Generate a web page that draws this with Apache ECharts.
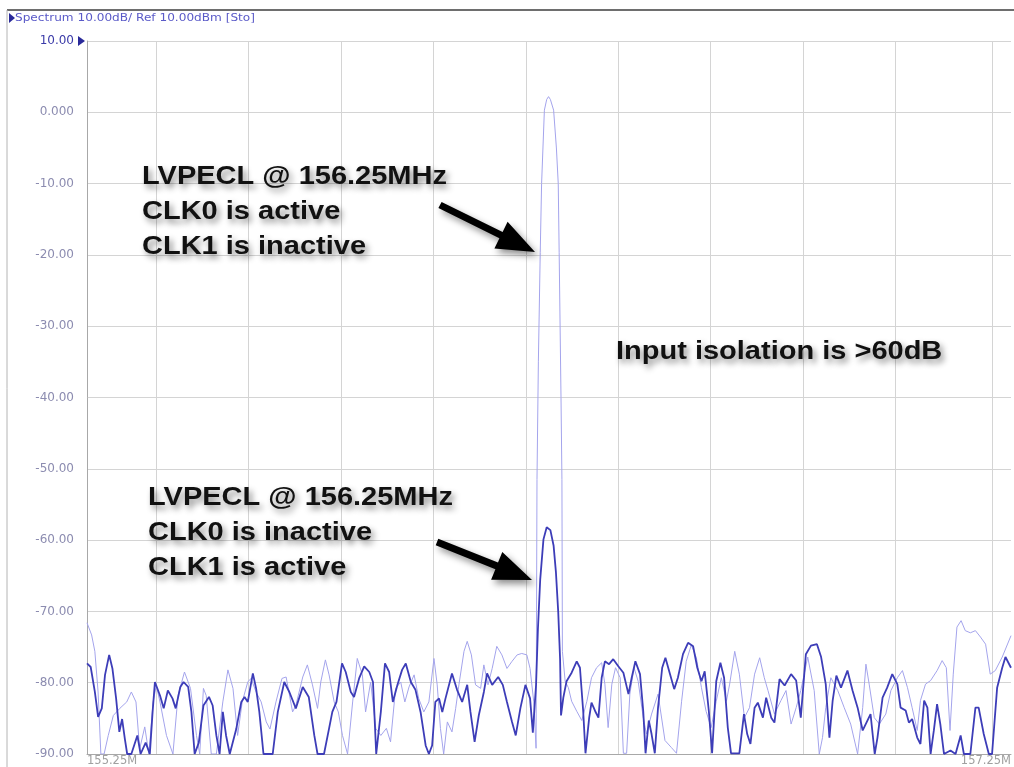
<!DOCTYPE html>
<html><head><meta charset="utf-8">
<script src="https://cdn.jsdelivr.net/npm/echarts@6/dist/echarts.min.js"></script>
<style>html,body{margin:0;padding:0;background:#fff}#c{width:1014px;height:767px}</style>
</head><body><div id="c"></div>
<script>
// Frequency axis (MHz) and level axis (dBm)
const yTickLabels = ['10.00','0.000','-10.00','-20.00','-30.00','-40.00','-50.00','-60.00','-70.00','-80.00','-90.00'];
const xEndLabels = ['155.25M','157.25M'];
const gridFreqs = [155.397,155.599,155.800,156.001,156.204,156.404,156.603,156.803,157.004,157.205];

// CLK0 active (light trace): [MHz, dBm]
const clk0Active = [[155.250,-71.6],[155.260,-73.3],[155.267,-75.6],[155.274,-81.3],[155.280,-90],[155.287,-90],[155.296,-87.4],[155.307,-84.6],[155.321,-83.6],[155.336,-82.7],[155.346,-81.3],[155.356,-82.7],[155.364,-89.3],[155.375,-86.2],[155.384,-90],[155.393,-82.7],[155.400,-80.4],[155.408,-82.7],[155.422,-87.4],[155.436,-90],[155.447,-81.8],[155.461,-78.5],[155.474,-80.8],[155.487,-87.4],[155.494,-90],[155.502,-80.8],[155.508,-81.8],[155.519,-90],[155.530,-90],[155.544,-82.7],[155.555,-78.2],[155.566,-80.8],[155.576,-87.4],[155.586,-82.7],[155.598,-79.9],[155.605,-79.4],[155.616,-81.3],[155.627,-82.7],[155.638,-85.5],[155.646,-86.5],[155.659,-82.7],[155.672,-79.4],[155.681,-79.2],[155.695,-84.1],[155.702,-83.2],[155.717,-79.2],[155.727,-77.5],[155.738,-80.3],[155.749,-83.6],[155.756,-79.9],[155.766,-76.8],[155.774,-78.9],[155.785,-82.7],[155.794,-84.1],[155.803,-87.4],[155.814,-90],[155.825,-82.7],[155.835,-76.6],[155.846,-78.9],[155.853,-84.1],[155.864,-79.9],[155.875,-86.4],[155.886,-87.4],[155.898,-86.4],[155.907,-88.3],[155.918,-80.8],[155.929,-79.9],[155.938,-82.7],[155.947,-80.6],[155.958,-78.9],[155.968,-82.2],[155.979,-84.1],[155.990,-82.7],[156.001,-76.6],[156.008,-80.3],[156.015,-86.4],[156.022,-90],[156.030,-85.5],[156.040,-86.9],[156.048,-83.6],[156.055,-80.3],[156.066,-75.6],[156.073,-74.2],[156.082,-76.1],[156.091,-80.3],[156.102,-80.8],[156.109,-77.5],[156.118,-80.3],[156.127,-78],[156.137,-74.9],[156.148,-76.1],[156.159,-78],[156.170,-77],[156.181,-76.1],[156.191,-75.9],[156.202,-76.1],[156.209,-78],[156.217,-82.7],[156.222,-89.2],[156.224,-51.5],[156.227,-35],[156.231,-19.7],[156.234,-10],[156.240,0.3],[156.245,1.8],[156.249,2.2],[156.253,1.8],[156.260,0.3],[156.266,-5],[156.270,-10],[156.272,-19.7],[156.276,-40],[156.278,-51.5],[156.279,-75.6],[156.285,-79.8],[156.292,-80.7],[156.299,-82.6],[156.310,-84],[156.321,-85.3],[156.332,-82.6],[156.342,-79.3],[156.353,-77.9],[156.364,-77.2],[156.371,-80.2],[156.378,-86.3],[156.386,-80.2],[156.394,-77.9],[156.404,-79.3],[156.411,-89.9],[156.418,-89.9],[156.425,-81.6],[156.434,-77.9],[156.443,-79.8],[156.454,-84.9],[156.461,-87.2],[156.472,-84.4],[156.486,-81.6],[156.501,-88.1],[156.515,-89.1],[156.526,-89.9],[156.537,-82.6],[156.547,-77],[156.558,-74.7],[156.569,-76.5],[156.580,-80.7],[156.590,-84],[156.601,-86.3],[156.612,-82.6],[156.623,-79.3],[156.634,-82.6],[156.641,-80.2],[156.652,-75.6],[156.662,-78.8],[156.673,-84.9],[156.684,-83.5],[156.695,-78.8],[156.706,-76.5],[156.716,-79.3],[156.724,-81.1],[156.738,-84.4],[156.752,-82.5],[156.763,-81.1],[156.774,-85.8],[156.785,-83.5],[156.795,-81.1],[156.810,-76.4],[156.824,-81.1],[156.835,-90],[156.842,-87.7],[156.849,-83.5],[156.860,-79.3],[156.875,-81.1],[156.889,-83.5],[156.903,-85.8],[156.918,-90],[156.929,-83.5],[156.936,-77.4],[156.943,-80.2],[156.954,-84.9],[156.965,-85.8],[156.979,-84.4],[156.990,-81.1],[157.004,-79.3],[157.015,-78.3],[157.026,-80.7],[157.036,-83.5],[157.047,-86.7],[157.054,-82.5],[157.065,-80.2],[157.076,-79.7],[157.090,-78.3],[157.101,-76.9],[157.110,-77.9],[157.118,-86.7],[157.125,-78.8],[157.133,-72.2],[157.142,-71.3],[157.151,-72.7],[157.162,-73],[157.173,-72.7],[157.184,-73.6],[157.195,-74.6],[157.205,-78.8],[157.216,-78.3],[157.231,-76.4],[157.250,-73.4]];

// CLK1 active (dark trace): [MHz, dBm]
const clk1Active = [[155.250,-77.3],[155.258,-77.8],[155.267,-81.3],[155.274,-84.8],[155.282,-83.6],[155.289,-78.9],[155.298,-76.1],[155.305,-78],[155.313,-82.2],[155.320,-86.9],[155.326,-85.1],[155.332,-87.9],[155.337,-90],[155.346,-90],[155.359,-87.4],[155.366,-90],[155.377,-88.4],[155.386,-90],[155.392,-84.1],[155.397,-79.9],[155.408,-81.8],[155.416,-83.6],[155.425,-81.1],[155.435,-82.2],[155.442,-83.6],[155.452,-80.6],[155.459,-79.9],[155.469,-80.6],[155.476,-84.1],[155.483,-90],[155.492,-88.4],[155.502,-83.2],[155.514,-82],[155.522,-83.2],[155.530,-87.4],[155.537,-90],[155.544,-84.1],[155.551,-87.4],[155.559,-90],[155.573,-86.5],[155.584,-82.7],[155.591,-82],[155.598,-82.7],[155.609,-78.7],[155.616,-80.8],[155.623,-84.1],[155.632,-90],[155.652,-90],[155.663,-84.1],[155.677,-79.9],[155.688,-81.3],[155.702,-83.6],[155.717,-80.6],[155.730,-82],[155.742,-87.4],[155.749,-90],[155.763,-90],[155.774,-86.4],[155.781,-84.1],[155.790,-82.7],[155.802,-77.3],[155.810,-78.5],[155.821,-81.3],[155.828,-82],[155.839,-79.4],[155.850,-77.7],[155.861,-78.5],[155.869,-79.9],[155.876,-90],[155.886,-84.1],[155.895,-77.3],[155.904,-78.5],[155.912,-82.7],[155.922,-80.3],[155.932,-78.2],[155.940,-77.3],[155.951,-79.9],[155.961,-81],[155.972,-84.1],[155.983,-88.8],[155.990,-90],[155.997,-88.8],[156.004,-82.7],[156.012,-82.2],[156.019,-84.1],[156.026,-82.2],[156.040,-78.7],[156.051,-81],[156.062,-82.7],[156.073,-80.3],[156.080,-84.1],[156.089,-88.3],[156.098,-84.6],[156.109,-81.3],[156.116,-78.7],[156.127,-80.3],[156.140,-79.2],[156.150,-80.3],[156.159,-82.7],[156.170,-85.5],[156.178,-87.4],[156.188,-83.6],[156.199,-80.3],[156.209,-82.2],[156.215,-87],[156.222,-80.3],[156.226,-72.5],[156.231,-65.5],[156.238,-59.9],[156.245,-58.2],[156.253,-58.6],[156.260,-60.8],[156.265,-64.5],[156.270,-70.1],[156.274,-76.7],[156.276,-84.6],[156.281,-82.1],[156.288,-79.8],[156.299,-78.6],[156.310,-77],[156.317,-77.9],[156.324,-84],[156.329,-89.9],[156.337,-84.9],[156.342,-82.8],[156.350,-84],[156.357,-84.9],[156.364,-79.3],[156.371,-77],[156.380,-77.4],[156.389,-76.7],[156.400,-77.7],[156.411,-78.6],[156.422,-81.6],[156.429,-79.3],[156.437,-77],[156.447,-78.8],[156.454,-84],[156.459,-89.9],[156.466,-85.3],[156.472,-87.2],[156.479,-89.9],[156.486,-83.5],[156.495,-77.9],[156.502,-76.5],[156.512,-78.8],[156.521,-80.9],[156.529,-79.3],[156.540,-76],[156.551,-74.4],[156.562,-74.9],[156.571,-77.9],[156.580,-79.8],[156.587,-78.4],[156.596,-84],[156.603,-89.9],[156.612,-79.8],[156.621,-77.2],[156.629,-79.3],[156.637,-86.3],[156.644,-89.9],[156.662,-89.9],[156.672,-84.4],[156.679,-87.2],[156.686,-88.6],[156.695,-83.5],[156.702,-82.8],[156.713,-84.9],[156.720,-82.1],[156.731,-84.9],[156.738,-85.6],[156.749,-79.5],[156.760,-80.4],[156.774,-78.8],[156.785,-79.7],[156.795,-84.9],[156.806,-76],[156.817,-74.8],[156.830,-74.6],[156.839,-76.4],[156.849,-80.2],[156.857,-87.7],[156.864,-82.5],[156.872,-79],[156.882,-80.7],[156.896,-78.3],[156.907,-81.1],[156.918,-83.5],[156.929,-86.7],[156.946,-84.4],[156.955,-90],[156.961,-87.7],[156.972,-82.1],[156.982,-80.7],[156.993,-78.8],[157.004,-80.2],[157.011,-83.5],[157.022,-83.9],[157.029,-85.6],[157.036,-85.1],[157.047,-87.7],[157.054,-88.6],[157.062,-82.5],[157.069,-83.5],[157.076,-90],[157.083,-86.7],[157.090,-83],[157.097,-85.8],[157.105,-90],[157.119,-89.5],[157.130,-90],[157.141,-87.4],[157.148,-90],[157.162,-90],[157.173,-83.5],[157.180,-83.5],[157.191,-87.2],[157.202,-90],[157.209,-90],[157.220,-80.7],[157.231,-77.9],[157.238,-76.4],[157.250,-77.9]];

const chart = echarts.init(document.getElementById('c'), null, {renderer: 'canvas'});

const annoFont = 'bold 25px "Liberation Sans", Arial, sans-serif';
function annoText(x, y, text) {
  return {
    type: 'text', x: x, y: y, scaleX: 1.16, z: 100,
    style: {
      text: text, font: annoFont, fill: '#111',
      align: 'left', verticalAlign: 'middle',
      textShadowColor: 'rgba(0,0,0,0.45)', textShadowBlur: 6,
      textShadowOffsetX: 3, textShadowOffsetY: 4
    }
  };
}
function arrow(pts) {
  return {
    type: 'polygon', z: 100,
    shape: {points: pts},
    style: {fill: '#000', shadowColor: 'rgba(0,0,0,0.45)', shadowBlur: 7, shadowOffsetX: 3, shadowOffsetY: 4}
  };
}

const option = {
  animation: false,
  backgroundColor: '#fff',
  grid: {left: 87, right: 0, top: 41, bottom: 12, containLabel: false},
  xAxis: {
    type: 'value', min: 155.25, max: 157.25, interval: 0.25,
    splitLine: {show: false},
    axisTick: {show: false},
    axisLine: {onZero: false, lineStyle: {color: '#a8a8a8', width: 1}},
    axisLabel: {
      show: true, margin: 1, color: '#a0a0a0', fontSize: 11.5, fontFamily: 'DejaVu Sans',
      showMinLabel: true, showMaxLabel: true,
      alignMinLabel: 'left', alignMaxLabel: 'right',
      formatter: function (v) {
        if (Math.abs(v - 155.25) < 1e-6) return xEndLabels[0];
        if (Math.abs(v - 157.25) < 1e-6) return xEndLabels[1];
        return '';
      }
    }
  },
  yAxis: {
    type: 'value', min: -90, max: 10, interval: 10,
    axisLine: {show: true, onZero: false, lineStyle: {color: '#a8a8a8', width: 1}},
    axisTick: {show: false},
    splitLine: {show: true, lineStyle: {color: '#d4d4d4', width: 1}},
    axisLabel: {
      margin: 13, color: '#8c8cb0', fontSize: 12, fontFamily: 'DejaVu Sans',
      formatter: function (v) {
        const i = Math.round((10 - v) / 10);
        const t = yTickLabels[i];
        return i === 0 ? '{top|' + t + '}' : t;
      },
      rich: {top: {color: '#3a3aa8', fontSize: 12, fontFamily: 'DejaVu Sans'}}
    }
  },
  series: [
    {
      name: 'CLK0 active', type: 'line', data: clk0Active, showSymbol: false,
      lineStyle: {color: '#a4a4ec', width: 1}, z: 2,
      markLine: {
        silent: true, symbol: ['none', 'none'], z: 1, animation: false,
        label: {show: false},
        lineStyle: {color: '#d4d4d4', type: 'solid', width: 1},
        data: gridFreqs.map(f => ({xAxis: f}))
      }
    },
    {
      name: 'CLK1 active', type: 'line', data: clk1Active, showSymbol: false,
      lineStyle: {color: '#3d3db8', width: 1.8}, z: 3
    }
  ],
  graphic: [
    {type: 'line', z: 50, shape: {x1: 7, y1: 10, x2: 1014, y2: 10}, style: {stroke: '#6e6e6e', lineWidth: 2}},
    {type: 'line', z: 50, shape: {x1: 7, y1: 10, x2: 7, y2: 767}, style: {stroke: '#b4b4b4', lineWidth: 1}},
    {type: 'polygon', z: 50, shape: {points: [[9, 13], [9, 23], [15, 18]]}, style: {fill: '#2a2a9a'}},
    {type: 'text', z: 50, x: 15, y: 18, scaleX: 1.1,
      style: {text: 'Spectrum 10.00dB/ Ref 10.00dBm [Sto]', font: '11px "DejaVu Sans", sans-serif', fill: '#5a5ac8', align: 'left', verticalAlign: 'middle'}},
    {type: 'polygon', z: 50, shape: {points: [[78, 36], [78, 46], [85, 41]]}, style: {fill: '#2a2a9a'}},
    annoText(142, 177, 'LVPECL @ 156.25MHz'),
    annoText(142, 212, 'CLK0 is active'),
    annoText(142, 247, 'CLK1 is inactive'),
    annoText(148, 498, 'LVPECL @ 156.25MHz'),
    annoText(148, 533, 'CLK0 is inactive'),
    annoText(148, 568, 'CLK1 is active'),
    annoText(616, 352, 'Input isolation is >60dB'),
    arrow([[438.4, 208.1], [499.4, 238.3], [494.4, 248.6], [535, 252], [507.6, 221.8], [502.6, 232.1], [441.6, 201.9]]),
    arrow([[435.7, 545.3], [495.4, 569.2], [491.1, 579.8], [532, 580], [502.3, 552], [498, 562.6], [438.3, 538.8]])
  ]
};
chart.setOption(option);
</script>
</body></html>
